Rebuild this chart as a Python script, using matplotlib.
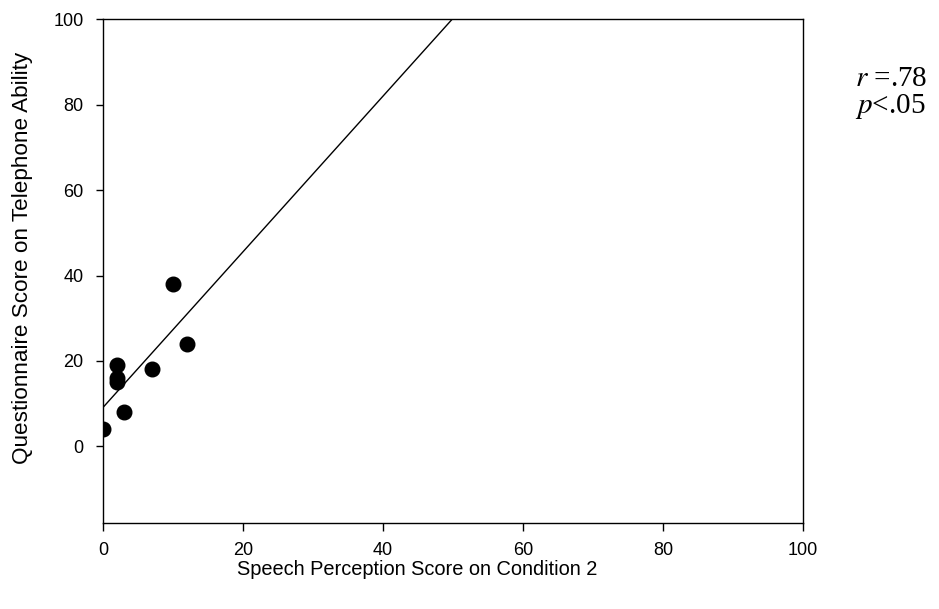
import numpy as np
import matplotlib.pyplot as plt

# speech perception (condition 2) vs questionnaire telephone score
speech_score = [0, 2, 2, 2, 3, 7, 10, 12]
questionnaire_score = [4, 19, 16, 15, 8, 18, 38, 24]
x_ticks = [0, 20, 40, 60, 80, 100]
y_ticks = [0, 20, 40, 60, 80, 100]

plt.rcParams['font.family'] = ['Liberation Sans', 'DejaVu Sans']

fig = plt.figure(figsize=(9.39, 6.09), dpi=100)
ax = fig.add_axes([0.1097, 0.1412, 0.7455, 0.8268])

ax.plot(speech_score, questionnaire_score, 'o', color='black', markersize=10.5)

# least squares fit, drawn until it leaves the top of the plot
slope, intercept = np.polyfit(speech_score, questionnaire_score, 1)
x_end = (100 - intercept) / slope
ax.plot([0, x_end], [intercept, 100], color='black', linewidth=1.0)

ax.set_xlim(0, 100)
ax.set_ylim(-18, 100)
ax.set_xticks(x_ticks)
ax.set_yticks(y_ticks)
ax.tick_params(direction='out', length=5.4, width=1, labelsize=13, pad=8.5)
for s in ax.spines.values():
    s.set_linewidth(1.0)

ax.set_xlabel("Speech Perception Score on Condition 2", fontsize=14.4)
ax.xaxis.set_label_coords(0.449, -0.073)
ax.set_ylabel("Questionnaire Score on Telephone Ability", fontsize=16.2)
ax.yaxis.set_label_coords(-0.1, 0.527)

fig.text(0.911, 0.858, r"$r$ =.78", fontsize=21, family='Liberation Serif',
         math_fontfamily='stix')
fig.text(0.911, 0.814, r"$p$<.05", fontsize=21, family='Liberation Serif',
         math_fontfamily='stix')

plt.savefig('out.png', dpi=100)
